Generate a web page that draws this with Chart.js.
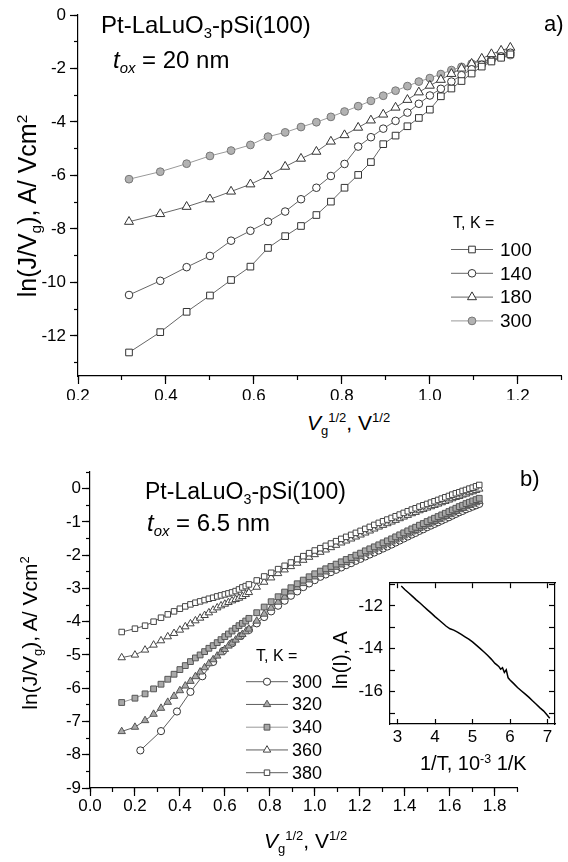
<!DOCTYPE html>
<html>
<head>
<meta charset="utf-8">
<script src="https://cdn.jsdelivr.net/npm/chart.js@4.4.1/dist/chart.umd.min.js"></script>
<style>
  html, body { margin: 0; padding: 0; background: #fff; }
  #page { position: relative; width: 568px; height: 862px; overflow: hidden; background: #fff; }
  canvas { position: absolute; }
  .t { position: absolute; font-family: 'Liberation Sans', Arial, sans-serif; line-height: 1; white-space: nowrap; color: #000; }
  .sb { font-size: .62em; position: relative; top: .35em; line-height: 0; }
  .sp { font-size: .62em; position: relative; top: -.6em; line-height: 0; }
  .rot { transform: translate(-50%, -50%) rotate(-90deg); }
</style>
</head>
<body>
<div id="page">
  <canvas id="chartA" width="568" height="400" style="left:0;top:0"></canvas>
  <canvas id="chartB" width="568" height="400" style="left:0;top:440px"></canvas>
  <canvas id="chartI" width="238" height="220" style="left:330px;top:560px"></canvas>

  <!-- panel a -->
  <div class="t" style="left:101px;top:13px;font-size:24px">Pt-LaLuO<span class="sb">3</span>-pSi(100)</div>
  <div class="t" style="left:113px;top:48px;font-size:24px"><i>t</i><span class="sb"><i>ox</i></span> = 20 nm</div>
  <div class="t" style="left:544px;top:13px;font-size:22px">a)</div>
  <div class="t" style="left:453px;top:215px;font-size:16px">T, K =</div>
  <div class="t rot" style="left:27px;top:206px;font-size:25px">ln(J/V<span class="sb">g</span>), A/ Vcm<span class="sp">2</span></div>
  <div class="t" style="left:307px;top:412px;font-size:21px"><i>V</i><span class="sb">g</span><span class="sp">1/2</span>, V<span class="sp">1/2</span></div>

  <!-- panel b -->
  <div class="t" style="left:145px;top:480px;font-size:23px">Pt-LaLuO<span class="sb">3</span>-pSi(100)</div>
  <div class="t" style="left:147px;top:511px;font-size:24px"><i>t</i><span class="sb"><i>ox</i></span> = 6.5 nm</div>
  <div class="t" style="left:520px;top:468px;font-size:22px">b)</div>
  <div class="t" style="left:256px;top:648px;font-size:16px">T, K =</div>
  <div class="t rot" style="left:29px;top:633px;font-size:21px">ln(J/V<span class="sb">g</span>), A/ Vcm<span class="sp">2</span></div>
  <div class="t" style="left:264px;top:830px;font-size:21px"><i>V</i><span class="sb">g</span><span class="sp">1/2</span>, V<span class="sp">1/2</span></div>

  <!-- inset -->
  <div class="t rot" style="left:340px;top:660px;font-size:20px">ln(I), A</div>
  <div class="t" style="left:420px;top:753px;font-size:20px">1/T, 10<span class="sp">-3</span> 1/K</div>
</div>

<script>
// ---- panel a: t_ox = 20 nm ----
const xA = [0.316, 0.387, 0.447, 0.5, 0.548, 0.592, 0.632, 0.671, 0.707, 0.742, 0.775, 0.806, 0.837, 0.866,
  0.894, 0.922, 0.949, 0.975, 1.0, 1.025, 1.049, 1.072, 1.095, 1.118, 1.14, 1.162, 1.183];
const yA100 = [-12.62, -11.86, -11.1, -10.49, -9.91, -9.41, -8.71, -8.27, -7.89, -7.48, -6.98, -6.46, -5.98, -5.5,
  -4.83, -4.51, -4.16, -3.85, -3.54, -3.04, -2.75, -2.47, -2.19, -1.93, -1.74, -1.6, -1.47];
const yA140 = [-10.47, -9.94, -9.43, -9.01, -8.44, -8.07, -7.73, -7.35, -6.89, -6.46, -6.02, -5.57, -4.92, -4.57,
  -4.25, -3.96, -3.65, -3.32, -3.01, -2.76, -2.49, -2.25, -2.03, -1.86, -1.7, -1.55, -1.41];
const yA180 = [-7.73, -7.44, -7.17, -6.89, -6.6, -6.33, -6.02, -5.67, -5.37, -5.11, -4.73, -4.49, -4.21, -3.94,
  -3.72, -3.46, -3.17, -2.89, -2.64, -2.42, -2.2, -2.0, -1.82, -1.63, -1.46, -1.33, -1.22];
const yA300 = [-6.14, -5.86, -5.56, -5.27, -5.07, -4.86, -4.55, -4.39, -4.19, -4.01, -3.81, -3.61, -3.41, -3.21,
  -3.02, -2.83, -2.66, -2.49, -2.36, -2.21, -2.06, -1.94, -1.82, -1.74, -1.65, -1.57, -1.5];
const tempsA = ['100', '140', '180', '300'];

// ---- panel b: t_ox = 6.5 nm ----
const xB = [0.141, 0.2, 0.245, 0.283, 0.316, 0.346, 0.374, 0.4, 0.424, 0.447, 0.469, 0.49, 0.51, 0.529, 0.548,
  0.566, 0.583, 0.6, 0.616, 0.632, 0.648, 0.663, 0.678, 0.693, 0.707,
  0.742, 0.775, 0.806, 0.837, 0.866, 0.894, 0.922, 0.949, 0.975, 1.0, 1.025, 1.049, 1.072, 1.095, 1.118, 1.14,
  1.162, 1.183, 1.204, 1.225, 1.245, 1.265, 1.285, 1.304, 1.323, 1.342, 1.36, 1.378, 1.396, 1.414, 1.432, 1.449,
  1.466, 1.483, 1.5, 1.517, 1.533, 1.549, 1.565, 1.581, 1.597, 1.612, 1.628, 1.643, 1.658, 1.673, 1.688, 1.703,
  1.718, 1.732];
const xB300 = [0.224, 0.316, 0.387, 0.447, 0.5, 0.548, 0.592, 0.632, 0.671, 0.707,
  0.742, 0.775, 0.806, 0.837, 0.866, 0.894, 0.922, 0.949, 0.975, 1.0, 1.025, 1.049, 1.072, 1.095, 1.118, 1.14,
  1.162, 1.183, 1.204, 1.225, 1.245, 1.265, 1.285, 1.304, 1.323, 1.342, 1.36, 1.378, 1.396, 1.414, 1.432, 1.449,
  1.466, 1.483, 1.5, 1.517, 1.533, 1.549, 1.565, 1.581, 1.597, 1.612, 1.628, 1.643, 1.658, 1.673, 1.688, 1.703,
  1.718, 1.732];
const yB300 = [-7.87, -7.29, -6.7, -6.11, -5.64, -5.21, -4.88, -4.65, -4.43, -4.25,
  -4.05, -3.86, -3.69, -3.52, -3.37, -3.22, -3.09, -2.96, -2.85, -2.75, -2.65, -2.58, -2.51, -2.44, -2.37, -2.3,
  -2.24, -2.17, -2.11, -2.04, -1.98, -1.92, -1.86, -1.8, -1.74, -1.68, -1.62, -1.56, -1.5, -1.44, -1.38, -1.33,
  -1.27, -1.22, -1.16, -1.11, -1.06, -1.01, -0.96, -0.91, -0.86, -0.81, -0.76, -0.71, -0.67, -0.62, -0.58, -0.54,
  -0.5, -0.46];
const yB320 = [-7.3, -7.17, -6.97, -6.78, -6.6, -6.42, -6.24, -6.07, -5.93, -5.79, -5.65, -5.51, -5.38, -5.26, -5.14,
  -5.03, -4.93, -4.83, -4.73, -4.64, -4.55, -4.46, -4.38, -4.3, -4.22,
  -3.98, -3.77, -3.59, -3.41, -3.26, -3.1, -2.97, -2.85, -2.74, -2.65, -2.57, -2.5, -2.43, -2.36, -2.29, -2.22,
  -2.16, -2.09, -2.03, -1.96, -1.9, -1.84, -1.78, -1.72, -1.66, -1.6, -1.54, -1.48, -1.42, -1.36, -1.3, -1.25,
  -1.19, -1.14, -1.08, -1.03, -0.98, -0.93, -0.88, -0.83, -0.78, -0.73, -0.68, -0.63, -0.59, -0.54, -0.5, -0.46,
  -0.42, -0.38];
const yB340 = [-6.43, -6.3, -6.17, -6.02, -5.88, -5.73, -5.58, -5.44, -5.32, -5.2, -5.09, -5.0, -4.9, -4.8, -4.72,
  -4.63, -4.54, -4.45, -4.37, -4.28, -4.2, -4.12, -4.05, -3.98, -3.9,
  -3.73, -3.56, -3.4, -3.25, -3.11, -2.98, -2.86, -2.75, -2.65, -2.56, -2.48, -2.41, -2.34, -2.27, -2.2, -2.13,
  -2.07, -2.0, -1.94, -1.87, -1.81, -1.75, -1.69, -1.63, -1.57, -1.51, -1.45, -1.39, -1.33, -1.27, -1.21, -1.16,
  -1.1, -1.05, -0.99, -0.94, -0.89, -0.84, -0.79, -0.74, -0.69, -0.64, -0.59, -0.54, -0.5, -0.45, -0.41, -0.37,
  -0.33, -0.29];
const yB360 = [-5.08, -5.0, -4.85, -4.7, -4.57, -4.45, -4.35, -4.25, -4.15, -4.06, -3.97, -3.89, -3.81, -3.73, -3.65,
  -3.58, -3.52, -3.47, -3.42, -3.37, -3.33, -3.29, -3.24, -3.18, -3.12,
  -2.96, -2.81, -2.68, -2.55, -2.44, -2.34, -2.24, -2.15, -2.06, -1.98, -1.91, -1.84, -1.77, -1.7, -1.63, -1.57,
  -1.51, -1.45, -1.39, -1.33, -1.27, -1.21, -1.15, -1.1, -1.05, -1.0, -0.95, -0.9, -0.85, -0.8, -0.75, -0.71,
  -0.66, -0.62, -0.58, -0.54, -0.5, -0.46, -0.42, -0.38, -0.34, -0.3, -0.26, -0.23, -0.19, -0.16, -0.12, -0.09,
  -0.05, -0.01];
const yB380 = [-4.31, -4.21, -4.12, -4.0, -3.88, -3.78, -3.69, -3.61, -3.54, -3.48, -3.43, -3.39, -3.35, -3.31, -3.28,
  -3.24, -3.21, -3.18, -3.15, -3.12, -3.08, -3.03, -2.97, -2.93, -2.88,
  -2.76, -2.64, -2.53, -2.42, -2.32, -2.22, -2.12, -2.03, -1.94, -1.86, -1.79, -1.72, -1.65, -1.58, -1.51, -1.45,
  -1.39, -1.33, -1.27, -1.21, -1.15, -1.09, -1.03, -0.98, -0.93, -0.88, -0.83, -0.78, -0.73, -0.68, -0.63, -0.59,
  -0.54, -0.5, -0.46, -0.42, -0.38, -0.34, -0.3, -0.26, -0.22, -0.18, -0.14, -0.11, -0.07, -0.04, 0.0, 0.03,
  0.07, 0.11];
const tempsB = ['300', '320', '340', '360', '380'];

// ---- inset: ln(I) vs 1/T ----
const xIn = [3.1, 3.2, 3.3, 3.4, 3.5, 3.6, 3.7, 3.8, 3.9, 4.0, 4.1, 4.2, 4.3, 4.4, 4.5, 4.6, 4.7, 4.8, 4.9, 5.0,
  5.1, 5.2, 5.3, 5.4, 5.5, 5.6, 5.65, 5.7, 5.75, 5.8, 5.85, 5.9, 5.95, 6.0, 6.1, 6.2, 6.3, 6.4, 6.5, 6.6, 6.7,
  6.8, 6.9, 7.0, 7.06];
const yIn = [-11.08, -11.25, -11.4, -11.56, -11.72, -11.87, -12.03, -12.19, -12.34, -12.5, -12.65, -12.8, -12.95,
  -13.07, -13.13, -13.22, -13.33, -13.44, -13.55, -13.68, -13.83, -13.98, -14.14, -14.3, -14.48, -14.68, -14.75,
  -14.82, -14.95, -14.88, -15.1, -14.98, -15.35, -15.45, -15.62, -15.8, -15.95, -16.1, -16.25, -16.42, -16.58,
  -16.75, -16.9, -17.1, -17.23];

const FONT = "'Liberation Sans', Arial, sans-serif";
Chart.defaults.font.family = FONT;
Chart.defaults.color = '#000';

function pts(xs, ys) {
  return xs.map((x, i) => ({ x: x, y: ys[i] }));
}

function series(xs, ys, style) {
  return Object.assign({
    data: pts(xs, ys),
    showLine: true,
    fill: false,
    borderWidth: 1,
    pointBorderWidth: 1,
    pointHoverRadius: 0
  }, style);
}

// labelled axis, sits in the layout box
function mainAxis(pos, min, max, step, size, tl, pad, fmt, fontSize) {
  return {
    type: 'linear', position: pos, min: min, max: max,
    afterFit: s => { if (s.isHorizontal()) s.height = size; else s.width = size; },
    border: { display: true, color: '#000', width: 1.2 },
    grid: { drawOnChartArea: false, tickLength: tl, tickColor: '#000', tickWidth: 1.2 },
    ticks: { stepSize: step, includeBounds: false, autoSkip: false, maxRotation: 0, padding: pad,
      color: '#000', font: { size: fontSize }, callback: fmt }
  };
}

// unlabelled axis placed at a value (minor ticks, inset frame)
function minorAxis(pos, min, max, step, tl, showBorder) {
  return {
    type: 'linear', position: pos, min: min, max: max,
    border: { display: !!showBorder, color: '#000', width: 1.2 },
    grid: { drawOnChartArea: false, tickLength: tl, tickColor: '#000', tickWidth: 1.2 },
    ticks: { stepSize: step, includeBounds: false, autoSkip: false, maxRotation: 0, callback: () => '' }
  };
}

const fmt1 = v => Number(v).toFixed(1);
const fmt0 = v => String(Math.round(v));

// legend drawn as: line - marker - line, label
const tkLegend = {
  id: 'tkLegend',
  afterDraw(chart, args, opts) {
    if (!opts || !opts.labels) return;
    const ctx = chart.ctx;
    ctx.save();
    opts.labels.forEach((lab, i) => {
      const ds = chart.data.datasets[opts.order[i]];
      const y = opts.y0 + i * opts.dy;
      ctx.strokeStyle = ds.borderColor;
      ctx.lineWidth = ds.borderWidth;
      ctx.beginPath();
      ctx.moveTo(opts.x0, y);
      ctx.lineTo(opts.x1, y);
      ctx.stroke();
      ctx.fillStyle = ds.pointBackgroundColor;
      ctx.strokeStyle = ds.pointBorderColor;
      ctx.lineWidth = ds.pointBorderWidth;
      Chart.helpers.drawPoint(ctx, {
        pointStyle: ds.pointStyle, radius: ds.pointRadius, borderWidth: ds.pointBorderWidth, rotation: 0
      }, (opts.x0 + opts.x1) / 2, y);
      ctx.fillStyle = '#000';
      ctx.font = opts.size + 'px ' + FONT;
      ctx.textBaseline = 'middle';
      ctx.textAlign = 'left';
      ctx.fillText(lab, opts.tx, y + 1);
    });
    ctx.restore();
  }
};

const baseOpts = {
  responsive: false,
  animation: false,
  events: [],
  plugins: { legend: { display: false }, tooltip: { enabled: false } }
};

// ---------- chart a ----------
new Chart(document.getElementById('chartA'), {
  type: 'scatter',
  data: {
    datasets: [
      series(xA, yA100, { label: tempsA[0], borderColor: '#666', pointStyle: 'rect', pointRadius: 4.7,
        pointBackgroundColor: '#fff', pointBorderColor: '#333', order: 0 }),
      series(xA, yA140, { label: tempsA[1], borderColor: '#666', pointStyle: 'circle', pointRadius: 3.8,
        pointBackgroundColor: '#fff', pointBorderColor: '#333', order: 1 }),
      series(xA, yA180, { label: tempsA[2], borderColor: '#666', pointStyle: 'triangle', pointRadius: 5.2,
        pointBackgroundColor: '#fff', pointBorderColor: '#333', order: 2 }),
      series(xA, yA300, { label: tempsA[3], borderColor: '#999', pointStyle: 'circle', pointRadius: 3.9,
        pointBackgroundColor: '#b2b2b2', pointBorderColor: '#777', order: 3 })
    ]
  },
  options: Object.assign({}, baseOpts, {
    layout: { padding: { left: 0, top: 15, right: 2, bottom: 0 } },
    scales: {
      x: mainAxis('bottom', 0.2, 1.3, 0.2, 24, 8, 2, fmt1, 17),
      xm: minorAxis({ y: -13.5 }, 0.2, 1.3, 0.1, 4),
      y: mainAxis('left', -13.5, 0, 2, 78, 8, 4, fmt0, 17),
      ym: minorAxis({ x: 0.2 }, -13.5, 0, 1, 4)
    },
    plugins: Object.assign({}, baseOpts.plugins, {
      tkLegend: { labels: tempsA, order: [0, 1, 2, 3], x0: 451, x1: 493, y0: 249.5, dy: 23.8, tx: 500, size: 19 }
    })
  }),
  plugins: [tkLegend]
});

// ---------- chart b ----------
new Chart(document.getElementById('chartB'), {
  type: 'scatter',
  data: {
    datasets: [
      series(xB300, yB300, { label: tempsB[0], borderColor: '#333', borderWidth: 0.8, pointStyle: 'circle',
        pointRadius: 3.6, pointBackgroundColor: '#fff', pointBorderColor: '#333', order: 4 }),
      series(xB, yB320, { label: tempsB[1], borderColor: '#333', borderWidth: 0.8, pointStyle: 'triangle',
        pointRadius: 4.3, pointBackgroundColor: '#a8a8a8', pointBorderColor: '#555', order: 3 }),
      series(xB, yB340, { label: tempsB[2], borderColor: '#999', borderWidth: 1, pointStyle: 'rect',
        pointRadius: 4.1, pointBackgroundColor: '#a8a8a8', pointBorderColor: '#555', order: 2 }),
      series(xB, yB360, { label: tempsB[3], borderColor: '#333', borderWidth: 0.8, pointStyle: 'triangle',
        pointRadius: 4.3, pointBackgroundColor: '#fff', pointBorderColor: '#444', order: 1 }),
      series(xB, yB380, { label: tempsB[4], borderColor: '#333', borderWidth: 0.8, pointStyle: 'rect',
        pointRadius: 3.9, pointBackgroundColor: '#fff', pointBorderColor: '#444', order: 0 })
    ]
  },
  options: Object.assign({}, baseOpts, {
    layout: { padding: { left: 0, top: 32, right: 51, bottom: 0 } },
    scales: {
      x: mainAxis('bottom', 0, 1.9, 0.2, 52, 8, 0, fmt1, 17),
      xm: minorAxis({ y: -9 }, 0, 1.9, 0.1, 4),
      y: mainAxis('left', -9, 0.5, 1, 90, 8, 1, fmt0, 17),
      ym: minorAxis({ x: 0 }, -9, 0.5, 0.5, 4)
    },
    plugins: Object.assign({}, baseOpts.plugins, {
      tkLegend: { labels: tempsB, order: [0, 1, 2, 3, 4], x0: 246, x1: 288, y0: 241.7, dy: 22.75, tx: 292, size: 18 }
    })
  }),
  plugins: [tkLegend]
});

// ---------- inset ----------
new Chart(document.getElementById('chartI'), {
  type: 'scatter',
  data: {
    datasets: [
      series(xIn, yIn, { borderColor: '#000', borderWidth: 1.5, pointRadius: 0 })
    ]
  },
  options: Object.assign({}, baseOpts, {
    layout: { padding: { left: 0, top: 15, right: 13, bottom: 0 } },
    scales: {
      x: mainAxis('bottom', 2.8, 7.2, 1, 56, -5, 8, fmt0, 17),
      y: mainAxis('left', -17.5, -10.9, 1, 60, -5, 12, v => (Math.round(v) % 2 === 0 ? String(Math.round(v)) : ''), 17),
      xt: minorAxis({ y: -10.9 }, 2.8, 7.2, 1, 5, true),
      yr: minorAxis({ x: 7.2 }, -17.5, -10.9, 1, 5, true)
    }
  })
});
</script>
</body>
</html>
